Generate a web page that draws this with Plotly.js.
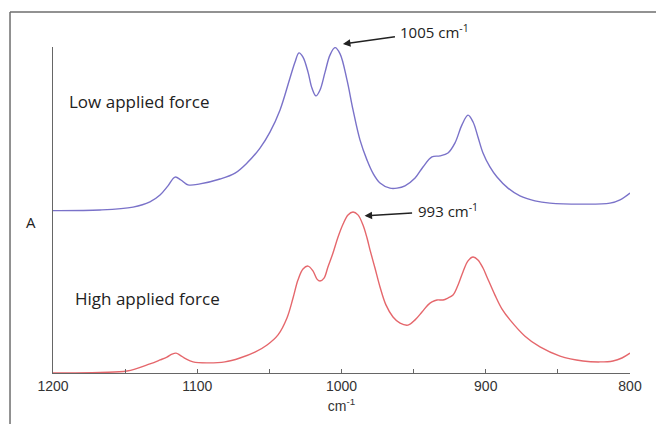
<!DOCTYPE html>
<html>
<head>
<meta charset="utf-8">
<script src="https://cdn.plot.ly/plotly-3.0.1.min.js"></script>
<style>html,body{margin:0;padding:0;background:#fff;}#chart{width:656px;height:424px;}</style>
</head>
<body>
<div id="chart"></div>
<script>
// Wavenumbers (cm-1) and absorbance (arbitrary units, stacked)
const lowWn = [1200,1167.4,1144.5,1132.8,1125.8,1120.3,1115.4,1111.3,1106.4,1098.1,1084.2,1073.8,1065.5,1056.5,1049.6,1042.6,1035.7,1032.2,1029.5,1026.7,1023.2,1020.5,1017.7,1014.9,1011.4,1008.0,1004.5,1001.0,996.2,992.0,987.2,982.3,978.2,973.3,966.4,961.5,956.0,949.0,943.5,937.3,931.7,926.2,921.3,916.5,912.3,908.8,905.4,901.9,897.1,892.2,884.6,876.3,865.9,855.5,832.6,813.9,806.9,800];
const lowA  = [0.498,0.500,0.509,0.525,0.546,0.574,0.601,0.592,0.577,0.580,0.595,0.613,0.644,0.690,0.739,0.807,0.905,0.954,0.982,0.969,0.923,0.874,0.850,0.868,0.923,0.975,0.998,0.979,0.899,0.807,0.715,0.653,0.613,0.583,0.567,0.567,0.574,0.598,0.632,0.663,0.666,0.675,0.706,0.761,0.791,0.770,0.724,0.675,0.632,0.601,0.567,0.543,0.528,0.521,0.518,0.521,0.531,0.552];
const highWn = [1200,1167.4,1148.7,1132.8,1125.8,1121.0,1117.5,1114.7,1112.0,1107.8,1102.9,1093.2,1080.8,1070.4,1060.0,1051.6,1044.0,1037.8,1033.6,1030.2,1026.7,1023.2,1019.8,1017.0,1014.9,1012.1,1009.4,1005.9,1002.4,998.9,995.5,992.0,988.6,985.1,982.3,980.2,976.8,973.3,969.2,964.3,959.4,953.9,949.0,944.2,940.0,937.3,933.8,929.6,926.2,922.7,919.2,915.8,912.3,908.8,905.4,901.9,899.1,893.6,888.7,883.2,872.8,862.4,848.5,832.6,820.8,811.8,805.6,800];
const highA  = [0.000,0.002,0.006,0.028,0.040,0.049,0.058,0.061,0.055,0.043,0.034,0.031,0.034,0.046,0.064,0.086,0.117,0.169,0.230,0.285,0.319,0.328,0.313,0.288,0.282,0.291,0.325,0.368,0.417,0.457,0.485,0.494,0.485,0.454,0.414,0.377,0.322,0.264,0.209,0.172,0.153,0.147,0.163,0.187,0.209,0.218,0.224,0.224,0.230,0.239,0.270,0.310,0.344,0.356,0.347,0.322,0.294,0.239,0.196,0.163,0.113,0.080,0.052,0.037,0.034,0.037,0.046,0.061];
const xTickVals = [1200,1100,1000,900,800];
const xTickText = ['1200','1100','1000','900','800'];
const seriesNames = ['Low applied force','High applied force'];
const peakLabels = ['1005 cm<sup>-1</sup>','993 cm<sup>-1</sup>'];
const peakWn = [999,984];
const peakA = [1.009,0.482];

const traces = [
  {x: lowWn, y: lowA, mode: 'lines', name: seriesNames[0], line: {color: '#7a72c9', width: 1.4, shape: 'spline', smoothing: 1}, hoverinfo: 'skip'},
  {x: highWn, y: highA, mode: 'lines', name: seriesNames[1], line: {color: '#e5676c', width: 1.4, shape: 'spline', smoothing: 1}, hoverinfo: 'skip'}
];

const labelFont = {family: 'Open Sans, Liberation Sans, sans-serif', size: 17, color: '#222'};
const peakFont = {family: 'Open Sans, Liberation Sans, sans-serif', size: 15, color: '#222'};

const layout = {
  width: 656, height: 424,
  margin: {l: 53, r: 26, t: 47, b: 51},
  paper_bgcolor: '#fff', plot_bgcolor: '#fff',
  showlegend: false,
  xaxis: {
    range: [1200, 800], autorange: false,
    tickmode: 'array', tickvals: xTickVals, ticktext: xTickText,
    ticks: 'inside', ticklen: 4, tickcolor: '#666', tickwidth: 1,
    minor: {tickmode: 'linear', tick0: 800, dtick: 50, ticks: 'inside', ticklen: 4, tickcolor: '#666', tickwidth: 1, showgrid: false},
    showline: true, linecolor: '#666', linewidth: 1.2,
    showgrid: false, zeroline: false,
    tickfont: {family: 'Liberation Sans, Arial, sans-serif', size: 14, color: '#333'},
    title: {text: 'cm<sup>-1</sup>', font: {family: 'Liberation Sans, Arial, sans-serif', size: 14, color: '#333'}, standoff: 8}
  },
  yaxis: {
    range: [0, 1], autorange: false,
    showticklabels: false, ticks: '',
    showline: true, linecolor: '#666', linewidth: 1.2,
    showgrid: false, zeroline: false
  },
  shapes: [
    {type: 'line', xref: 'paper', yref: 'paper', x0: -0.0745, x1: -0.0745, y0: 1.107, y1: -0.2, line: {color: '#6e6e6e', width: 1.5}},
    {type: 'line', xref: 'paper', yref: 'paper', x0: -0.0745, x1: 1.1, y0: 1.107, y1: 1.107, line: {color: '#6e6e6e', width: 1.5}}
  ],
  annotations: [
    {xref: 'paper', yref: 'paper', x: -0.05, y: 0.463, text: 'A', showarrow: false, font: peakFont},
    {xref: 'x', yref: 'y', x: 1190, y: 0.834, xanchor: 'left', text: seriesNames[0], showarrow: false, font: labelFont},
    {xref: 'x', yref: 'y', x: 1186, y: 0.23, xanchor: 'left', text: seriesNames[1], showarrow: false, font: labelFont},
    {xref: 'x', yref: 'paper', x: peakWn[0], y: peakA[0], text: peakLabels[0], showarrow: true, ax: 92, ay: -13, borderpad: 5, arrowhead: 2, arrowsize: 1, arrowwidth: 1.5, arrowcolor: '#222', font: peakFont},
    {xref: 'x', yref: 'y', x: peakWn[1], y: peakA[1], text: peakLabels[1], showarrow: true, ax: 83, ay: -5, borderpad: 5, arrowhead: 2, arrowsize: 1, arrowwidth: 1.5, arrowcolor: '#222', font: peakFont}
  ]
};

Plotly.newPlot('chart', traces, layout, {staticPlot: true, displayModeBar: false});
</script>
</body>
</html>
